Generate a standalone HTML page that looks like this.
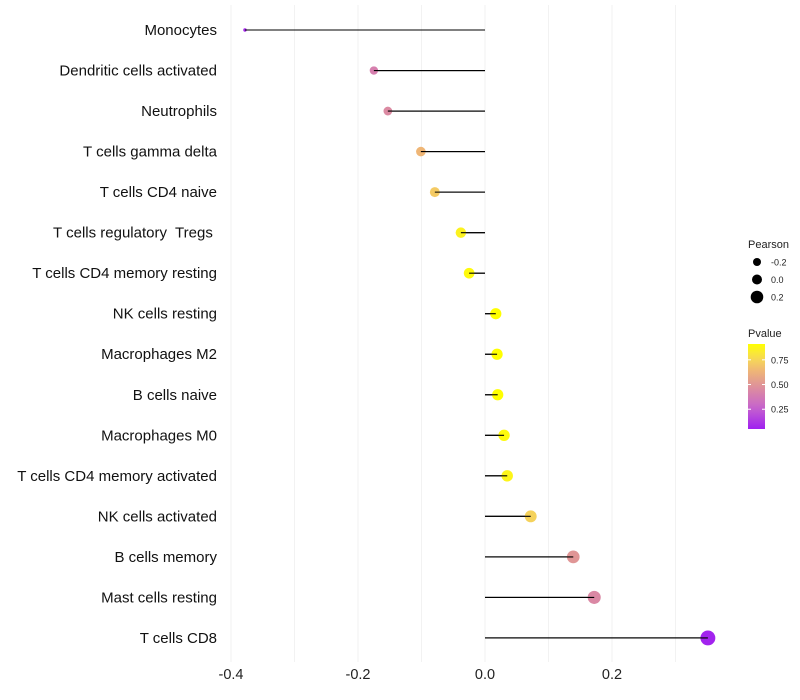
<!DOCTYPE html>
<html><head><meta charset="utf-8"><style>
body{margin:0;background:#fff;font-family:"Liberation Sans",sans-serif;}
svg{display:block}
</style></head><body>
<svg id="chart" width="800" height="700"></svg>
<script>
const categories=["Monocytes","Dendritic cells activated","Neutrophils","T cells gamma delta","T cells CD4 naive","T cells regulatory  Tregs ","T cells CD4 memory resting","NK cells resting","Macrophages M2","B cells naive","Macrophages M0","T cells CD4 memory activated","NK cells activated","B cells memory","Mast cells resting","T cells CD8"];
const pearson=[-0.378,-0.175,-0.153,-0.101,-0.079,-0.038,-0.025,0.017,0.019,0.020,0.030,0.035,0.072,0.139,0.172,0.351];
const pvalues=[0.08,0.40,0.45,0.64,0.71,0.86,0.89,0.91,0.91,0.91,0.89,0.87,0.74,0.50,0.44,0.06];
const xTicks=[-0.4,-0.2,0.0,0.2];
const xTickLabels=["-0.4","-0.2","0.0","0.2"];
const xGrid=[-0.4,-0.3,-0.2,-0.1,0,0.1,0.2,0.3];
const sizeLegend=[-0.2,0.0,0.2];
const colorLegend=[0.25,0.50,0.75];

const NS="http://www.w3.org/2000/svg";
const svg=document.getElementById('chart');
function mk(t,a,p){const e=document.createElementNS(NS,t);for(const k in a)e.setAttribute(k,a[k]);(p||svg).appendChild(e);return e;}
const x=v=>485+v*635;
const y=i=>30+i*40.53;
const pMin=0.05,pMax=0.91;
const stops=[[0,[160,32,240]],[0.25,[198,100,205]],[0.45,[218,135,165]],[0.7,[240,185,115]],[0.85,[248,222,80]],[1,[255,255,0]]];
function col(p){let t=Math.max(0,Math.min(1,(p-pMin)/(pMax-pMin)));for(let i=1;i<stops.length;i++){if(t<=stops[i][0]){const a=stops[i-1],b=stops[i];const f=(t-a[0])/(b[0]-a[0]);return 'rgb('+a[1].map((c,j)=>Math.round(c+(b[1][j]-c)*f)).join(',')+')';}}return 'rgb(255,255,0)';}
const sMin=Math.min(...pearson);
const r=v=>Math.sqrt(3+72*(v-sMin));

xGrid.forEach(g=>{const l=mk('line',{x1:x(g),x2:x(g),y1:5,y2:662,stroke:'#f2f2f2','stroke-width':1});
});
xTicks.forEach((t,i)=>{const e=mk('text',{x:x(t),y:679,'text-anchor':'middle','font-size':14.5,fill:'#222'});e.textContent=xTickLabels[i];
});
categories.forEach((c,i)=>{
 const t=mk('text',{x:217,y:y(i)+5,'text-anchor':'end','font-size':15,fill:'#111','xml:space':'preserve',style:'white-space:pre'});t.textContent=c;
 
 const l=mk('line',{x1:x(0),x2:x(pearson[i]),y1:y(i),y2:y(i),stroke:'#000','stroke-width':1.1});
 
 const d=mk('circle',{cx:x(pearson[i]),cy:y(i),r:r(pearson[i]),fill:col(pvalues[i])});
 
 const l2=mk('line',{x1:x(0),x2:x(pearson[i]),y1:y(i),y2:y(i),stroke:'#000','stroke-width':1.1});
 
});
const lg=mk('g',{});
let tt=mk('text',{x:748,y:248,'font-size':11,fill:'#222'},lg);tt.textContent='Pearson';
sizeLegend.forEach((s,i)=>{const cy=262+i*17.5;
 const c=mk('circle',{cx:757,cy:cy,r:[4,5,6.3][i],fill:'#000'},lg);
 const t=mk('text',{x:771,y:cy+3.5,'font-size':9,fill:'#222'},lg);t.textContent=['-0.2','0.0','0.2'][i];});
const cg=mk('g',{});
tt=mk('text',{x:748,y:337,'font-size':11,fill:'#222'},cg);tt.textContent='Pvalue';
const defs=mk('defs',{});const gr=mk('linearGradient',{id:'pg',x1:0,y1:1,x2:0,y2:0},defs);
for(let k=0;k<=10;k++){mk('stop',{offset:k/10,'stop-color':col(pMin+(pMax-pMin)*k/10)},gr);}
const bar=mk('rect',{x:748,y:344,width:17,height:85,fill:'url(#pg)'},cg);
const py=p=>429-(p-pMin)/(pMax-pMin)*85;
colorLegend.forEach(p=>{mk('line',{x1:748,x2:751,y1:py(p),y2:py(p),stroke:'#fff'},cg);mk('line',{x1:762,x2:765,y1:py(p),y2:py(p),stroke:'#fff'},cg);
 const t=mk('text',{x:771,y:py(p)+3.5,'font-size':9,fill:'#222'},cg);t.textContent=p.toFixed(2);});
</script>
</body></html>
